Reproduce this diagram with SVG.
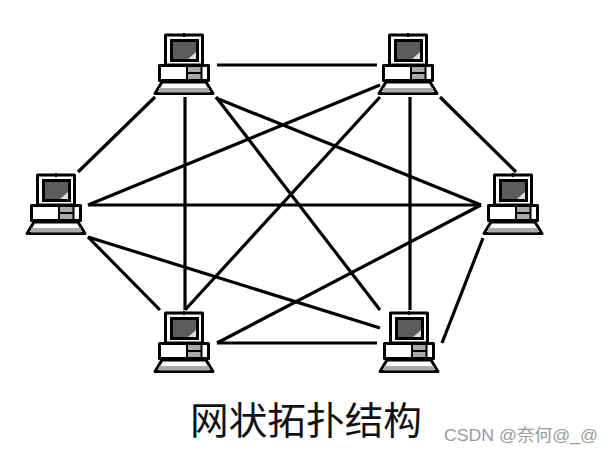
<svg xmlns="http://www.w3.org/2000/svg" width="614" height="454" viewBox="0 0 614 454">
<style>
.l{stroke:#000;stroke-width:3.2;fill:none;stroke-linecap:butt}
.o{fill:#fff;stroke:#000;stroke-width:3;stroke-linejoin:round}
.title{font-family:"Noto Sans CJK SC","Liberation Sans",sans-serif;font-size:38px;fill:#111}
.wm{font-family:"Liberation Sans","Noto Sans CJK SC",sans-serif;font-size:17px;fill:#9a9a9a}
</style>
<defs>
<g id="pc">
<rect class="o" x="25.500" y="10" width="37" height="30"/>
<rect x="31.500" y="15.500" width="26" height="20" fill="#5c5c5c" stroke="#000" stroke-width="3"/>
<path d="M48 34L56 27V34Z" fill="#ddd"/>
<rect x="43" y="8" width="2" height="4" fill="#000"/>
<rect class="o" x="19.500" y="40.500" width="49" height="15"/>
<rect x="48" y="42" width="13" height="12" fill="#aaa"/>
<path d="M47 41V55M61.500 41V55M47 48H62" stroke="#000" stroke-width="2" fill="none"/>
<path class="o" d="M22 57H66L73 68.500H15Z"/>
<rect x="19" y="63" width="50" height="4.500" fill="#aaa"/>
</g>
</defs>
<rect width="614" height="454" fill="#fff"/>
<g id="connectors">
<path class="l" d="M217 65H377"/>
<path class="l" d="M155 97L78 172"/>
<path class="l" d="M185 97V310"/>
<path class="l" d="M216 97L380 310"/>
<path class="l" d="M216 98L481 205"/>
<path class="l" d="M380 85L88 205"/>
<path class="l" d="M380 97L185 310"/>
<path class="l" d="M410 97V310"/>
<path class="l" d="M440 97L516 172"/>
<path class="l" d="M88 205H481"/>
<path class="l" d="M88 237L160 310"/>
<path class="l" d="M88 237L380 328"/>
<path class="l" d="M481 205L217 343"/>
<path class="l" d="M483 238L442 343"/>
<path class="l" d="M217 343H377"/>
</g>
<g id="node-top-left"><use href="#pc" x="140" y="25"/></g>
<g id="node-top-right"><use href="#pc" x="364" y="25"/></g>
<g id="node-left"><use href="#pc" x="12" y="165"/></g>
<g id="node-right"><use href="#pc" x="469" y="165"/></g>
<g id="node-bottom-left"><use href="#pc" x="140" y="303"/></g>
<g id="node-bottom-right"><use href="#pc" x="365" y="303"/></g>
<text class="title" x="190" y="434" textLength="232" lengthAdjust="spacingAndGlyphs">网状拓扑结构</text>
<text class="wm" x="444" y="441" textLength="154" lengthAdjust="spacingAndGlyphs">CSDN @奈何@_@</text>
</svg>
